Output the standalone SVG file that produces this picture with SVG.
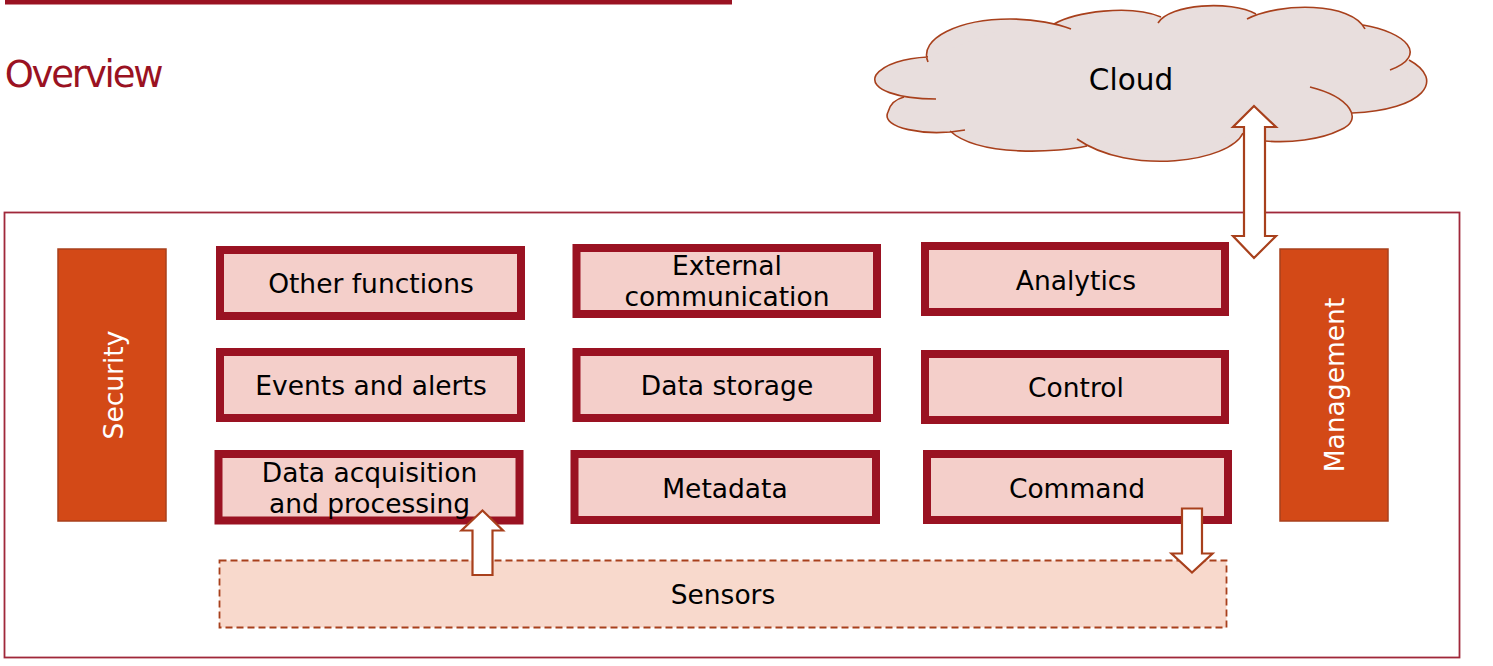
<svg xmlns="http://www.w3.org/2000/svg" width="1493" height="666" viewBox="0 0 1493 666">
<style>
text{font-family:"DejaVu Sans","Liberation Sans",sans-serif;font-size:26.500px;fill:#000;text-anchor:middle}
.box{fill:#F4CFCA;stroke:#9A1222;stroke-width:8}
.side{fill:#D34917;stroke:#A8401C;stroke-width:1.500}
.side-t{fill:#fff}
.arrow{fill:#fff;stroke:#A8401C;stroke-width:2.200;stroke-linejoin:miter}
</style>
<rect width="1493" height="666" fill="#fff"/>
<rect id="top-bar" x="5" y="0" width="727" height="4.500" fill="#9A1222"/>
<text id="title" x="83" y="87" style="font-size:37px;fill:#9A1222;letter-spacing:-2.200px">Overview</text>
<g id="frame"><rect x="4.500" y="212.500" width="1455" height="445" fill="none" stroke="#A0283A" stroke-width="1.800"/></g>
<g id="cloud">
<path fill="#E8DEDD" d="M928 62C918 38 960 19 1010 19C1035 19 1058 24 1071 29M1054 24C1075 12 1130 4 1161 17M1158 23C1170 4 1230 0 1256 14M1247 19C1280 2 1352 2 1365 29M1363 25C1405 32 1430 55 1390 70M1409 60C1446 80 1424 110 1352 113M1310 87C1350 97 1365 120 1340 130C1320 140 1290 143 1265 141M1243 133C1230 162 1130 176 1077 139M1087 146C1060 152 980 158 950 131M965 130C925 137 880 128 888 112C890 104 896 99 904 97M936 99C900 99 868 90 876 75C884 64 905 58 928 57"/>
<path fill="#E8DEDD" d="M928 57L1000 30L1054 24L1110 14L1161 17L1210 10L1256 14L1300 12L1363 25L1395 45L1409 60L1405 95L1352 113L1320 130L1265 141L1243 133L1160 152L1087 146L1030 148L950 131L905 120L904 97L885 80Z"/>
<path fill="none" stroke="#A8401C" stroke-width="1.600" d="M928 62C918 38 960 19 1010 19C1035 19 1058 24 1071 29M1054 24C1075 12 1130 4 1161 17M1158 23C1170 4 1230 0 1256 14M1247 19C1280 2 1352 2 1365 29M1363 25C1405 32 1430 55 1390 70M1409 60C1446 80 1424 110 1352 113M1310 87C1350 97 1365 120 1340 130C1320 140 1290 143 1265 141M1243 133C1230 162 1130 176 1077 139M1087 146C1060 152 980 158 950 131M965 130C925 137 880 128 888 112C890 104 896 99 904 97M936 99C900 99 868 90 876 75C884 64 905 58 928 57"/>
<text x="1131" y="90" style="font-size:29.500px">Cloud</text>
</g>
<g id="security"><rect class="side" x="58" y="249" width="108" height="272"/><text class="side-t" transform="translate(123,385) rotate(-90)">Security</text></g>
<g id="management"><rect class="side" x="1280" y="249" width="108" height="272"/><text class="side-t" transform="translate(1344,385) rotate(-90)">Management</text></g>
<g id="other-functions"><rect class="box" x="220" y="250" width="301" height="66"/><text x="371" y="293">Other functions</text></g>
<g id="external-communication"><rect class="box" x="576.500" y="248" width="300.500" height="66"/><text x="727" y="275">External</text><text x="727" y="306">communication</text></g>
<g id="analytics"><rect class="box" x="925" y="246" width="300" height="66"/><text x="1076" y="290">Analytics</text></g>
<g id="events-and-alerts"><rect class="box" x="220" y="352" width="301" height="66"/><text x="371" y="395">Events and alerts</text></g>
<g id="data-storage"><rect class="box" x="576.500" y="352" width="300.500" height="66"/><text x="727" y="395">Data storage</text></g>
<g id="control"><rect class="box" x="925" y="354" width="300" height="66"/><text x="1076" y="397">Control</text></g>
<g id="data-acquisition"><rect class="box" x="218.500" y="454" width="301" height="66.500"/><text x="369.500" y="482">Data acquisition</text><text x="369.500" y="513">and processing</text></g>
<g id="metadata"><rect class="box" x="574.500" y="454" width="301.500" height="66"/><text x="725" y="498">Metadata</text></g>
<g id="command"><rect class="box" x="927" y="454" width="301" height="66"/><text x="1077" y="498">Command</text></g>
<g id="sensors"><rect x="219.500" y="560.500" width="1007" height="67" fill="#F8D9CC" stroke="#A8401C" stroke-width="1.800" stroke-dasharray="7 4"/><text x="723" y="604">Sensors</text></g>
<g id="connectors">
<path class="arrow" d="M1254 106L1276 127H1265V236H1276L1254 258L1233 236H1244V127H1233Z"/>
<path class="arrow" d="M482.500 510.500L503 530.500H492.500V575H472.500V530.500H461.500Z"/>
<path class="arrow" d="M1182 508.500H1202V553.500H1212.500L1192 572.500L1171.500 553.500H1182Z"/>
</g>
</svg>
